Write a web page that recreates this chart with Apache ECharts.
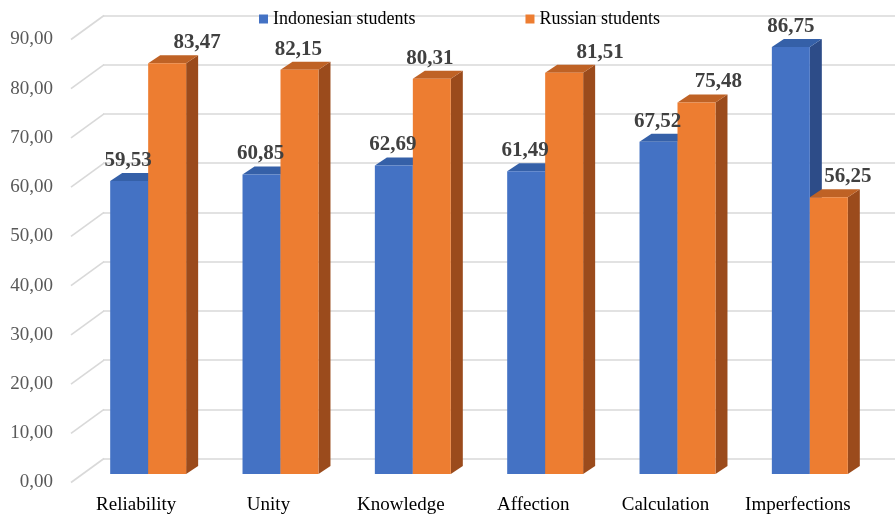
<!DOCTYPE html>
<html>
<head>
<meta charset="utf-8">
<script src="https://cdn.jsdelivr.net/npm/echarts@6/dist/echarts.min.js"></script>
<style>html,body{margin:0;padding:0;background:#fff}#c{width:895px;height:516px}</style>
</head>
<body>
<div id="c"></div>
<script>
const categories = ['Reliability', 'Unity', 'Knowledge', 'Affection', 'Calculation', 'Imperfections'];
const indonesian = [59.53, 60.85, 62.69, 61.49, 67.52, 86.75];
const russian = [83.47, 82.15, 80.31, 81.51, 75.48, 56.25];
const yTicks = [0, 10, 20, 30, 40, 50, 60, 70, 80, 90];

// style: manual label nudges (px) as in the reference
const labelNudgeIdn = [-1, -1, -1, -1, -1, 0];
const labelNudgeRus = [30, -1, -2, 36, 22, 19];

const SERIF = '"Liberation Serif", "Times New Roman", serif';
const fmt = v => v.toFixed(2).replace('.', ',');

// 3D geometry (px)
const PLANE_DX = 12, PLANE_DY = -8.5;   // bar front plane offset from label plane
const DEPTH_DX = 12, DEPTH_DY = -8;     // bar thickness
const WALL_DX = 33, WALL_DY = -24;      // back wall offset

function barGeom(side, params, api) {
  const cat = api.value(0), v = api.value(1);
  const p0 = api.coord([cat, 0]);
  const p1 = api.coord([cat, v]);
  const band = api.size([1, 0])[0];
  const w = band * 0.287;
  const xl = p0[0] + PLANE_DX + (side === 0 ? -w : 0);
  return { v: v, xl: xl, xr: xl + w, w: w, yb: p0[1] + PLANE_DY, yt: p1[1] + PLANE_DY };
}

function makeBarRender(side, colors) {
  return function (params, api) {
    const g = barGeom(side, params, api);
    const { xl, xr, yb, yt, w } = g;
    return {
      type: 'group',
      children: [
        { type: 'polygon', shape: { points: [[xr, yb], [xr + DEPTH_DX, yb + DEPTH_DY], [xr + DEPTH_DX, yt + DEPTH_DY], [xr, yt]] },
          style: { fill: colors.side } },
        { type: 'polygon', shape: { points: [[xl, yt], [xr, yt], [xr + DEPTH_DX, yt + DEPTH_DY], [xl + DEPTH_DX, yt + DEPTH_DY]] },
          style: { fill: colors.top } },
        { type: 'rect', shape: { x: xl, y: yt, width: w, height: yb - yt },
          style: { fill: colors.front } }
      ]
    };
  };
}

function makeLabelRender(side, nudges) {
  return function (params, api) {
    const g = barGeom(side, params, api);
    return { type: 'text', style: {
      text: fmt(g.v), x: (g.xl + g.xr) / 2 + nudges[params.dataIndex], y: g.yt - 10,
      align: 'center', verticalAlign: 'bottom',
      font: 'bold 21px ' + SERIF, fill: '#404040' } };
  };
}

const blue = { front: '#4472C4', top: '#3560A8', side: '#2D4C88' };
const orange = { front: '#ED7D31', top: '#BF6225', side: '#9B4B1C' };

const chart = echarts.init(document.getElementById('c'), null, { renderer: 'canvas' });
chart.setOption({
  animation: false,
  backgroundColor: '#fff',
  legend: {
    top: 5, left: 254,
    itemWidth: 9, itemHeight: 9, itemGap: 110,
    textStyle: { fontFamily: SERIF, fontSize: 18, color: '#000' },
    data: [
      { name: 'Indonesian students', icon: 'rect', itemStyle: { color: blue.front } },
      { name: 'Russian students', icon: 'rect', itemStyle: { color: orange.front } }
    ]
  },
  grid: [
    { left: 70, right: 31, top: 39.5, bottom: 33.5 },
    { left: 70 + WALL_DX, right: 31 - WALL_DX, top: 39.5 + WALL_DY, bottom: 33.5 - WALL_DY }
  ],
  xAxis: [
    { gridIndex: 0, type: 'category', data: categories,
      axisLine: { show: false }, axisTick: { show: false },
      axisLabel: { interval: 0, hideOverlap: false, margin: 13, fontFamily: SERIF, fontSize: 19, color: '#000' } },
    { gridIndex: 1, type: 'category', data: categories, show: false }
  ],
  yAxis: [
    { gridIndex: 0, type: 'value', min: 0, max: 90, interval: 10,
      axisLine: { show: false }, axisTick: { show: false }, splitLine: { show: false },
      axisLabel: { margin: 17, fontFamily: SERIF, fontSize: 19, color: '#595959', formatter: v => fmt(v) } },
    { gridIndex: 1, type: 'value', min: 0, max: 90, interval: 10,
      axisLine: { show: false }, axisTick: { show: false }, axisLabel: { show: false },
      splitLine: { show: true, lineStyle: { color: '#D9D9D9', width: 1.6 } } }
  ],
  series: [
    {
      type: 'custom', name: 'walls', xAxisIndex: 0, yAxisIndex: 0, z: 1, silent: true,
      data: yTicks.map(t => [0, t]),
      renderItem: function (params, api) {
        const p = api.coord([0, api.value(1)]);
        const x0 = params.coordSys.x + 1;
        return { type: 'line', shape: { x1: x0, y1: p[1], x2: x0 + WALL_DX, y2: p[1] + WALL_DY },
                 style: { stroke: '#D9D9D9', lineWidth: 1.6 } };
      }
    },
    {
      type: 'custom', name: 'Indonesian students', xAxisIndex: 0, yAxisIndex: 0, z: 3,
      itemStyle: { color: blue.front },
      data: indonesian.map((v, i) => [i, v]),
      renderItem: makeBarRender(0, blue)
    },
    {
      type: 'custom', name: 'Russian students', xAxisIndex: 0, yAxisIndex: 0, z: 4,
      itemStyle: { color: orange.front },
      data: russian.map((v, i) => [i, v]),
      renderItem: makeBarRender(1, orange)
    },
    {
      type: 'custom', name: 'Indonesian students', xAxisIndex: 0, yAxisIndex: 0, z: 10, silent: true,
      data: indonesian.map((v, i) => [i, v]),
      renderItem: makeLabelRender(0, labelNudgeIdn)
    },
    {
      type: 'custom', name: 'Russian students', xAxisIndex: 0, yAxisIndex: 0, z: 10, silent: true,
      data: russian.map((v, i) => [i, v]),
      renderItem: makeLabelRender(1, labelNudgeRus)
    }
  ]
});
</script>
</body>
</html>
